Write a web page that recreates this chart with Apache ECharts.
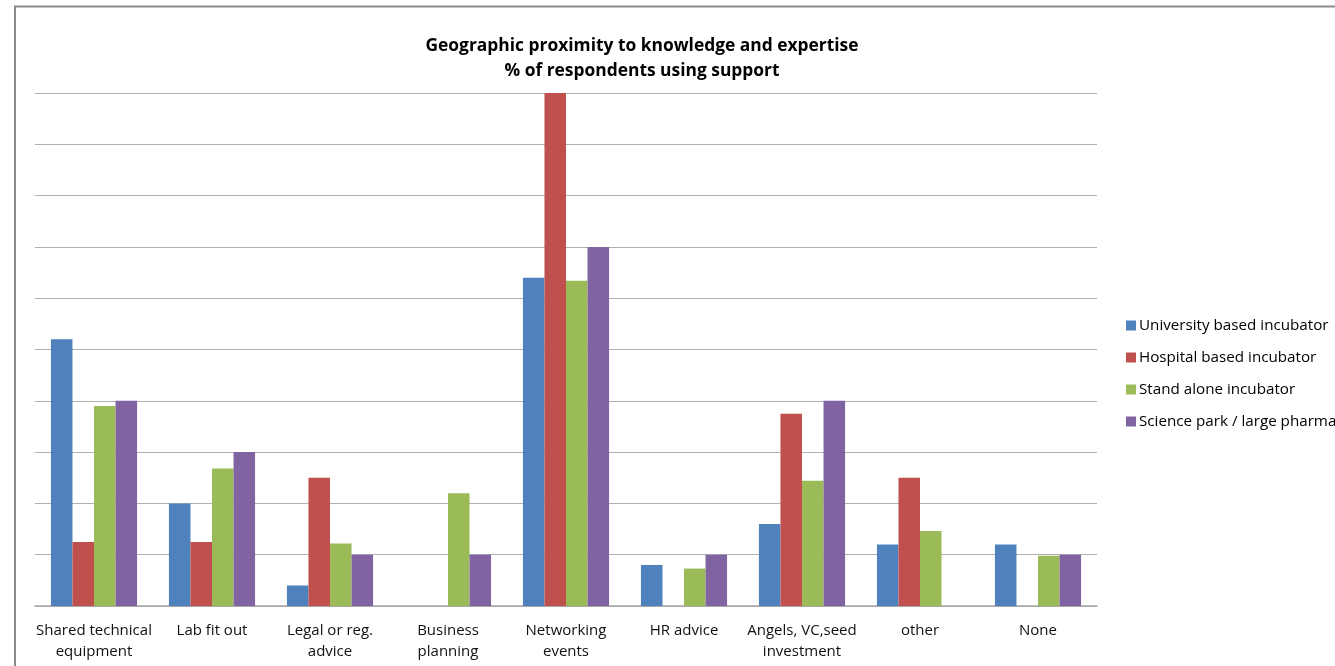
<!DOCTYPE html>
<html>
<head>
<meta charset="utf-8">
<script src="https://cdn.jsdelivr.net/npm/echarts@6/dist/echarts.min.js"></script>
<style>
html,body{margin:0;padding:0;background:#fff;}
#chart{width:1335px;height:666px;}
</style>
</head>
<body>
<div id="chart"></div>
<script>
const categories = ["Shared technical\nequipment", "Lab fit out", "Legal or reg.\nadvice", "Business\nplanning", "Networking\nevents", "HR advice", "Angels, VC,seed\ninvestment", "other", "None"];
const seriesNames = ["University based incubator", "Hospital based incubator", "Stand alone incubator", "Science park / large pharma"];
const university = [52, 20, 4, 0, 64, 8, 16, 12, 12];
const hospital = [12.5, 12.5, 25, 0, 100, 0, 37.5, 25, 0];
const standAlone = [39.0, 26.8, 12.2, 22.0, 63.4, 7.3, 24.4, 14.6, 9.8];
const sciencePark = [40, 30, 10, 10, 70, 10, 40, 0, 10];
const colors = ["#4F81BD", "#C0504D", "#9BBB59", "#8064A2"];

const chart = echarts.init(document.getElementById('chart'));
const FONT = '"Open Sans", Lato, sans-serif';
const values = [university, hospital, standAlone, sciencePark];
chart.setOption({
  animation: false,
  color: colors,
  title: {
    text: "Geographic proximity to knowledge and expertise\n% of respondents using support",
    left: 637, top: 29, textAlign: 'center',
    textStyle: {fontFamily: FONT, fontSize: 17.4, fontWeight: 'bold', color: '#000', lineHeight: 25}
  },
  legend: {
    orient: 'vertical', left: 1121, top: 313,
    itemWidth: 10, itemHeight: 10, itemGap: 17,
    icon: 'rect',
    textStyle: {fontFamily: FONT, fontSize: 15.2, color: '#000', padding: [0,0,0,-2]},
    data: seriesNames
  },
  grid: {left: 35, right: 238, top: 93, bottom: 60},
  xAxis: {
    type: 'category', data: categories,
    axisLine: {show: true, lineStyle: {color: '#a6a6a6', width: 1.5}},
    axisTick: {show: false},
    axisLabel: {fontFamily: FONT, fontSize: 15, color: '#111', lineHeight: 21, margin: 14, interval: 0}
  },
  yAxis: {
    type: 'value', min: 0, max: 100, interval: 10,
    axisLabel: {show: false}, axisLine: {show: false}, axisTick: {show: false},
    splitLine: {lineStyle: {color: '#b0b0b0', width: 1.2}}
  },
  series: seriesNames.map((n, i) => ({
    name: n, type: 'bar', data: values[i],
    barGap: '0%', barCategoryGap: '27%',
    itemStyle: {color: colors[i]}
  })),
  graphic: [{
    type: 'polyline', silent: true,
    shape: {points: [[15, 700], [15, 6.5], [1340, 6.5]]},
    style: {stroke: '#8a8a8a', lineWidth: 2, fill: null}
  }]
});
</script>
</body>
</html>
